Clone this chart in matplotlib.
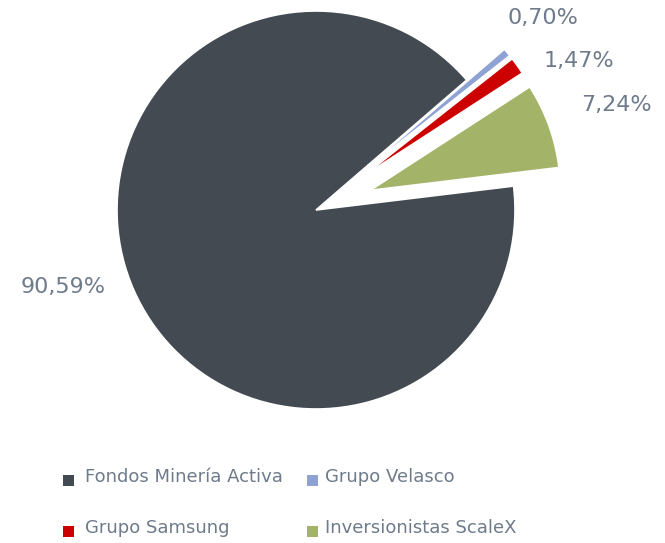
import matplotlib
matplotlib.use("Agg")
import matplotlib.pyplot as plt
from matplotlib.patches import Rectangle

# data
names = ["Fondos Minería Activa", "Grupo Velasco", "Grupo Samsung", "Inversionistas ScaleX"]
shares = [90.59, 0.70, 1.47, 7.24]
colors = ["#434a52", "#8ea3d3", "#cc0000", "#a3b368"]
pct_labels = ["90,59%", "0,70%", "1,47%", "7,24%"]

TEXT_COLOR = "#6e7b8b"
W, H = 665, 543
CX, CY, R = 316, 210, 199  # pie centre / radius in pixels

plt.rcParams["font.family"] = ["DejaVu Sans"]

fig = plt.figure(figsize=(W / 100, H / 100), dpi=100)
ax = fig.add_axes([0, 0, 1, 1])

explode = [0, 0.29, 0.29, 0.29]
wedges, _ = ax.pie(
    shares,
    colors=colors,
    explode=explode,
    startangle=6.9,
    counterclock=False,
    radius=1,
    wedgeprops=dict(edgecolor="white", linewidth=1.2),
)
# sliced pieces are drawn a bit smaller than the main slice
for w in wedges[1:]:
    w.set_radius(0.955)

ax.set_xlim(-CX / R, (W - CX) / R)
ax.set_ylim(-(H - CY) / R, CY / R)
ax.set_aspect("auto")
ax.axis("off")

# percentage labels (positions in pie units)
label_pos = [(-1.269, -0.387), (1.138, 0.965), (1.322, 0.749), (1.508, 0.528)]
for txt, (x, y) in zip(pct_labels, label_pos):
    ax.text(x, y, txt, ha="center", va="center", fontsize=16, color=TEXT_COLOR)

# legend, laid out in two columns like the original
def px(x, y):
    return x / W, 1 - y / H

slots = [(68, 480, 85), (312, 480, 325), (68, 531, 85), (312, 531, 325)]
sq = 11
for i, (sx, sy, tx_px) in enumerate(slots):
    x0, y0 = px(sx - sq / 2, sy + sq / 2)
    fig.patches.append(Rectangle((x0, y0), sq / W, sq / H, transform=fig.transFigure,
                                 facecolor=colors[i], edgecolor="none"))
    tx, ty = px(tx_px, sy - 3)
    fig.text(tx, ty, names[i], ha="left", va="center", fontsize=13, color=TEXT_COLOR)

fig.savefig("out.png", dpi=100)
